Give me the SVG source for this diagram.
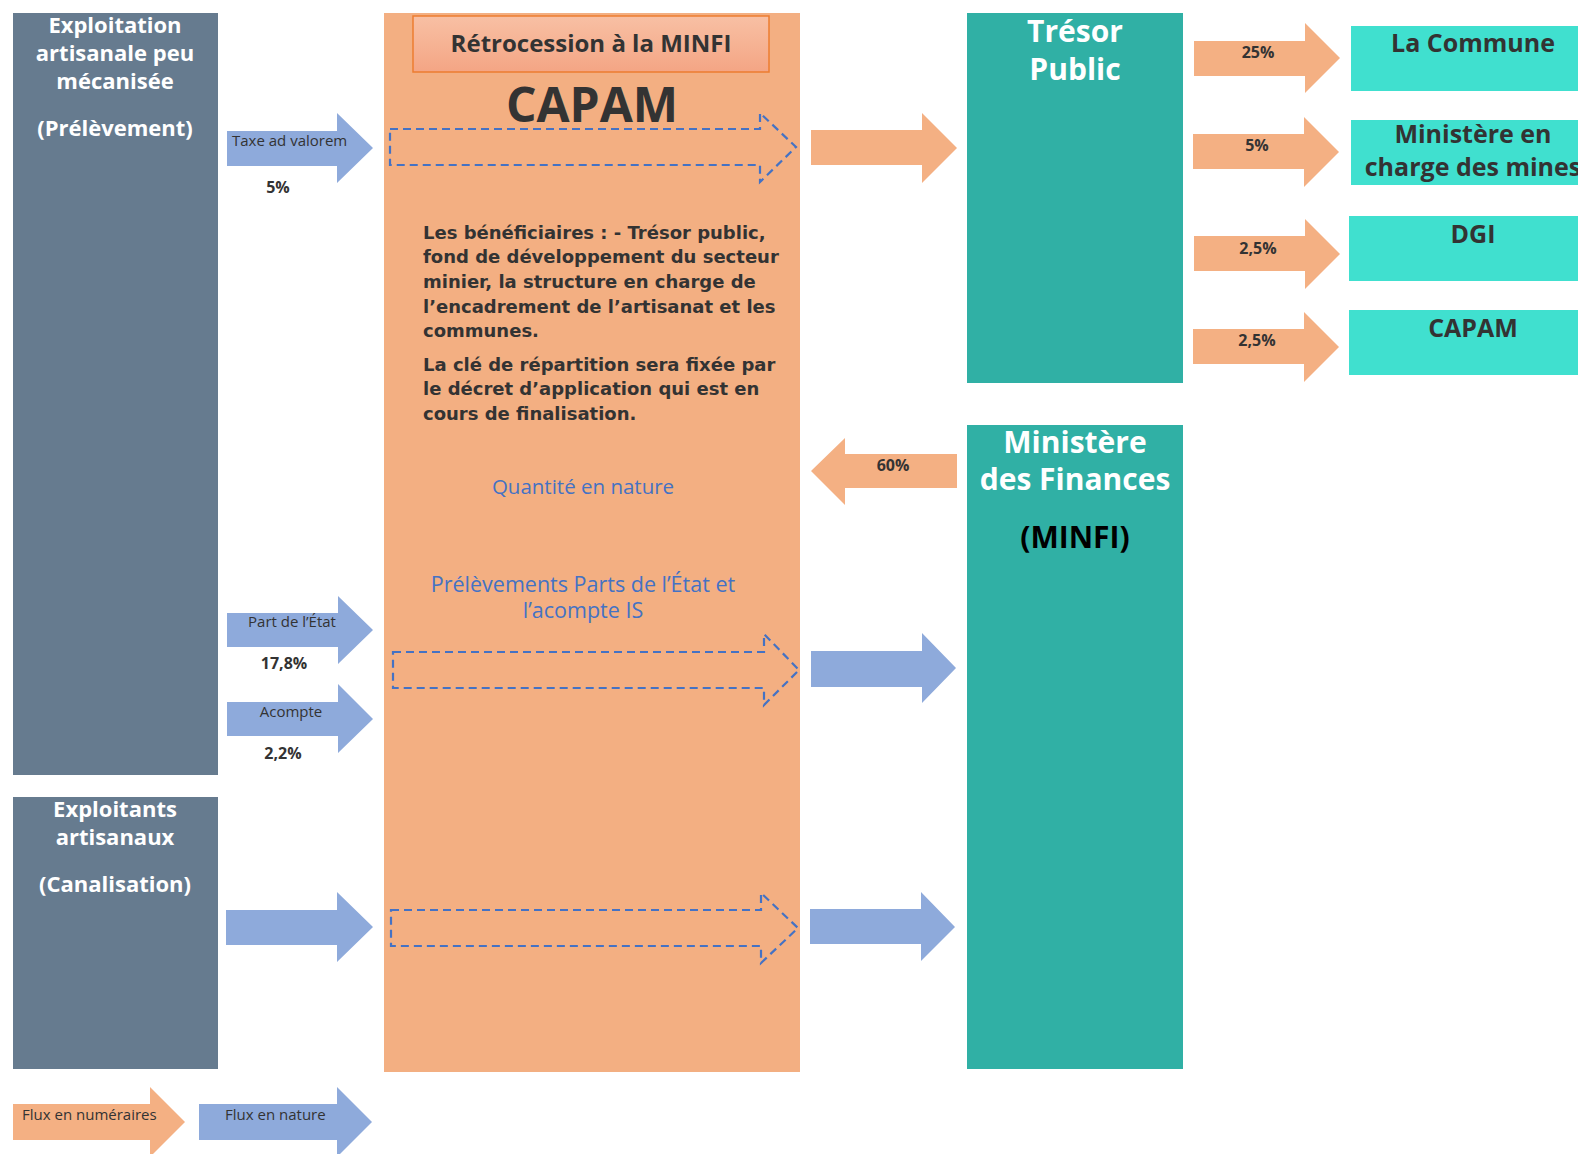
<svg xmlns="http://www.w3.org/2000/svg" width="1578" height="1154" viewBox="0 0 1578 1154">
<defs>
<linearGradient id="gRetro" x1="0" y1="0" x2="0" y2="1">
<stop offset="0" stop-color="#F8C0A4"/>
<stop offset="1" stop-color="#F4A584"/>
</linearGradient>
</defs>
<style>
text{font-family:"Open Sans","DejaVu Sans",sans-serif}
.slate{fill:#667B8F}
.capam{fill:#F3AF82}
.teal{fill:#30B0A5}
.cyan{fill:#40E0CF}
.oarr{fill:#F4B083}
.barr{fill:#8EAADB}
.dash{fill:none;stroke:#4472C4;stroke-width:2.2;stroke-dasharray:8,5}
.wt{fill:#FFFFFF;font-weight:700;text-anchor:middle}
.dk{fill:#333333;font-weight:700}
.body text{font-family:"DejaVu Sans","Open Sans",sans-serif;fill:#333333;font-weight:700;font-size:18px}
.lbl{fill:#333333;font-size:15px}
.pct{fill:#333333;font-weight:700;font-size:16px;text-anchor:middle}
.blue{fill:#4472C4;font-size:20.5px;text-anchor:middle}
.blue2{fill:#4472C4;font-size:21.5px;text-anchor:middle}
</style>
<rect width="1578" height="1154" fill="#FFFFFF"/>

<g id="node-exploitation">
<rect class="slate" x="13" y="13" width="205" height="762"/>
<text class="wt" font-size="22" x="115" y="33">Exploitation</text>
<text class="wt" font-size="22" x="115" y="61">artisanale peu</text>
<text class="wt" font-size="22" x="115" y="89">mécanisée</text>
<text class="wt" font-size="22" x="115" y="136">(Prélèvement)</text>
</g>

<g id="node-exploitants">
<rect class="slate" x="13" y="797" width="205" height="272"/>
<text class="wt" font-size="22" x="115" y="817">Exploitants</text>
<text class="wt" font-size="22" x="115" y="845">artisanaux</text>
<text class="wt" font-size="22" x="115" y="892">(Canalisation)</text>
</g>

<g id="node-capam">
<rect class="capam" x="384" y="13" width="416" height="1059"/>
<rect x="413" y="16" width="356" height="56" fill="url(#gRetro)" stroke="#ED7D31" stroke-width="1.5"/>
<text class="dk" font-size="24" x="591" y="52" text-anchor="middle">Rétrocession à la MINFI</text>
<text class="dk" font-size="48" x="592" y="122" text-anchor="middle">CAPAM</text>
<g class="body">
<text x="423" y="239">Les bénéficiaires : - Trésor public,</text>
<text x="423" y="263">fond de développement du secteur</text>
<text x="423" y="288">minier, la structure en charge de</text>
<text x="423" y="313">l’encadrement de l’artisanat et les</text>
<text x="423" y="337">communes.</text>
<text x="423" y="371">La clé de répartition sera fixée par</text>
<text x="423" y="395">le décret d’application qui est en</text>
<text x="423" y="420">cours de finalisation.</text>
</g>
<text class="blue" x="583" y="494">Quantité en nature</text>
<text class="blue2" x="583" y="592">Prélèvements Parts de l’État et</text>
<text class="blue2" x="583" y="618">l’acompte IS</text>
</g>

<g id="node-tresor">
<rect class="teal" x="967" y="13" width="216" height="370"/>
<text class="wt" font-size="30" x="1075" y="42">Trésor</text>
<text class="wt" font-size="30" x="1075" y="80">Public</text>
</g>

<g id="node-minfi">
<rect class="teal" x="967" y="425" width="216" height="644"/>
<text class="wt" font-size="30" x="1075" y="453">Ministère</text>
<text class="wt" font-size="30" x="1075" y="490">des Finances</text>
<text font-size="30" font-weight="700" fill="#000000" text-anchor="middle" x="1075" y="548">(MINFI)</text>
</g>

<g id="node-commune">
<rect class="cyan" x="1351" y="26" width="240" height="65"/>
<text class="dk" font-size="25" x="1473" y="52" text-anchor="middle">La Commune</text>
</g>
<g id="node-mines">
<rect class="cyan" x="1351" y="120" width="240" height="65"/>
<text class="dk" font-size="25" x="1473" y="143" text-anchor="middle">Ministère en</text>
<text class="dk" font-size="25" x="1473" y="176" text-anchor="middle">charge des mines</text>
</g>
<g id="node-dgi">
<rect class="cyan" x="1349" y="216" width="240" height="65"/>
<text class="dk" font-size="25" x="1473" y="243" text-anchor="middle">DGI</text>
</g>
<g id="node-capam2">
<rect class="cyan" x="1349" y="310" width="240" height="65"/>
<text class="dk" font-size="25" x="1473" y="337" text-anchor="middle">CAPAM</text>
</g>

<g id="connectors">
<path class="barr" d="M227,131 H337 V113 L373,148 L337,183 V166 H227 Z"/>
<text class="lbl" x="232" y="146">Taxe ad valorem</text>
<text class="pct" x="278" y="193">5%</text>

<path class="dash" d="M390,129 H760 V113 L796,147 L760,182 V165 H390 Z"/>
<path class="oarr" d="M811,130 H922 V113 L957,148 L922,183 V165 H811 Z"/>

<path class="oarr" d="M1194,41 H1305 V23 L1340,58 L1305,93 V76 H1194 Z"/>
<text class="pct" x="1258" y="58">25%</text>
<path class="oarr" d="M1193,134 H1304 V117 L1339,152 L1304,187 V169 H1193 Z"/>
<text class="pct" x="1257" y="151">5%</text>
<path class="oarr" d="M1194,236 H1305 V219 L1340,254 L1305,289 V271 H1194 Z"/>
<text class="pct" x="1258" y="254">2,5%</text>
<path class="oarr" d="M1193,329 H1304 V312 L1339,347 L1304,382 V364 H1193 Z"/>
<text class="pct" x="1257" y="346">2,5%</text>

<path class="oarr" d="M957,454 H845 V438 L811,471 L845,505 V488 H957 Z"/>
<text class="pct" x="893" y="471">60%</text>

<path class="barr" d="M227,613 H338 V596 L373,630 L338,664 V647 H227 Z"/>
<text class="lbl" x="292" y="627" text-anchor="middle">Part de l’État</text>
<text class="pct" x="284" y="669">17,8%</text>
<path class="barr" d="M227,702 H338 V684 L373,719 L338,753 V736 H227 Z"/>
<text class="lbl" x="291" y="717" text-anchor="middle">Acompte</text>
<text class="pct" x="283" y="759">2,2%</text>

<path class="dash" d="M393,652 H764 V634 L799,670 L764,705 V688 H393 Z"/>
<path class="barr" d="M811,651 H922 V633 L956,668 L922,703 V687 H811 Z"/>

<path class="barr" d="M226,910 H337 V892 L373,927 L337,962 V945 H226 Z"/>
<path class="dash" d="M391,910 H761 V893 L798,928 L761,963 V946 H391 Z"/>
<path class="barr" d="M810,909 H921 V892 L955,927 L921,961 V944 H810 Z"/>

<path class="oarr" d="M13,1104 H150 V1087 L185,1122 L150,1157 V1140 H13 Z"/>
<text class="lbl" x="22" y="1120">Flux en numéraires</text>
<path class="barr" d="M199,1104 H337 V1087 L372,1122 L337,1157 V1140 H199 Z"/>
<text class="lbl" x="225" y="1120">Flux en nature</text>
</g>
</svg>
